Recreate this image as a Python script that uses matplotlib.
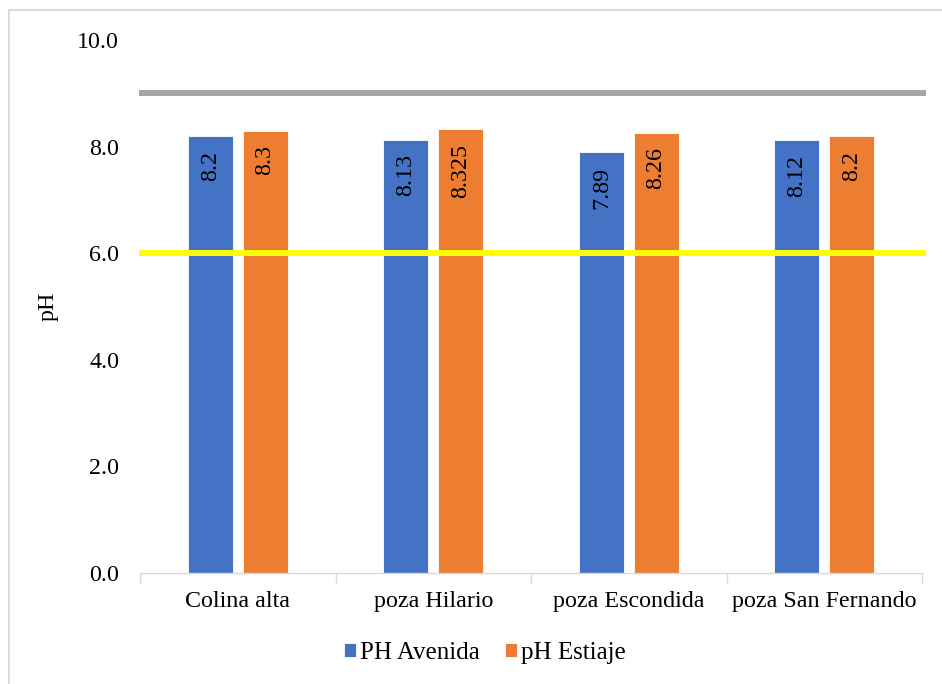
import matplotlib
matplotlib.use("Agg")
import matplotlib.pyplot as plt
from matplotlib.patches import Rectangle
import numpy as np

plt.rcParams['font.family'] = ['Liberation Serif', 'DejaVu Serif']

categories = ["Colina alta", "poza Hilario", "poza Escondida", "poza San Fernando"]
ph_avenida = [8.2, 8.13, 7.89, 8.12]
ph_estiaje = [8.3, 8.325, 8.26, 8.2]
avenida_labels = ["8.2", "8.13", "7.89", "8.12"]
estiaje_labels = ["8.3", "8.325", "8.26", "8.2"]
upper_limit = 9.0
lower_limit = 6.0
yticks = [0, 2, 4, 6, 8, 10]

blue = "#4472C4"
orange = "#ED7D31"
fs = 17.3

fig = plt.figure(figsize=(9.42, 6.84), dpi=100)
ax = fig.add_axes([140 / 942, 111 / 684, 782 / 942, 533 / 684])

x = np.arange(len(categories))
width = 0.23
offset = 0.14

b1 = ax.bar(x - offset, ph_avenida, width, color=blue, edgecolor="white",
            linewidth=0.6, label="PH Avenida", zorder=2)
b2 = ax.bar(x + offset, ph_estiaje, width, color=orange, edgecolor="white",
            linewidth=0.6, label="pH Estiaje", zorder=2)

for bars, labels in ((b1, avenida_labels), (b2, estiaje_labels)):
    for rect, txt in zip(bars, labels):
        ax.annotate(txt, (rect.get_x() + rect.get_width() / 2, rect.get_height()),
                    xytext=(0, -10.5), textcoords="offset points",
                    rotation=90, ha="center", va="top", fontsize=fs,
                    color="black", zorder=4)

ax.plot([-0.505, 3.52], [upper_limit, upper_limit], color="#A5A5A5",
        linewidth=4.3, solid_capstyle="butt", zorder=3, clip_on=False)
ax.plot([-0.505, 3.52], [lower_limit, lower_limit], color="#FFFF00",
        linewidth=4.3, solid_capstyle="butt", zorder=3, clip_on=False)

ax.set_xlim(-0.5, 3.5)
ax.set_ylim(0, 10)
ax.set_yticks(yticks)
ax.set_yticklabels([f"{v:.1f}" for v in yticks], fontsize=fs)
ax.set_xticks(x)
ax.set_xticklabels(categories, fontsize=fs)
ax.set_xticks(np.arange(-0.5, 4.0, 1.0), minor=True)
ax.tick_params(axis="x", which="major", length=0, pad=13)
ax.tick_params(axis="x", which="minor", length=7, color="#D9D9D9", width=1)
ax.tick_params(axis="y", length=0, pad=15)

for s in ("top", "right", "left"):
    ax.spines[s].set_visible(False)
ax.spines["bottom"].set_color("#D9D9D9")
ax.spines["bottom"].set_linewidth(1)

ax.set_ylabel("pH", fontsize=fs)
ax.yaxis.set_label_coords((59 - 140) / 782, 0.5)

fig.legend(handles=[b1, b2], loc="center", bbox_to_anchor=(485 / 942, 31 / 684),
           ncol=2, frameon=False, fontsize=18, handlelength=0.48,
           handleheight=0.48, handletextpad=0.16, columnspacing=1.0)

fig.patches.append(Rectangle((9 / 942, -0.05), 1.2, (684 - 10) / 684 + 0.05,
                             transform=fig.transFigure, fill=False,
                             edgecolor="#D9D9D9", linewidth=1.3))

fig.savefig("out.png", dpi=100)
